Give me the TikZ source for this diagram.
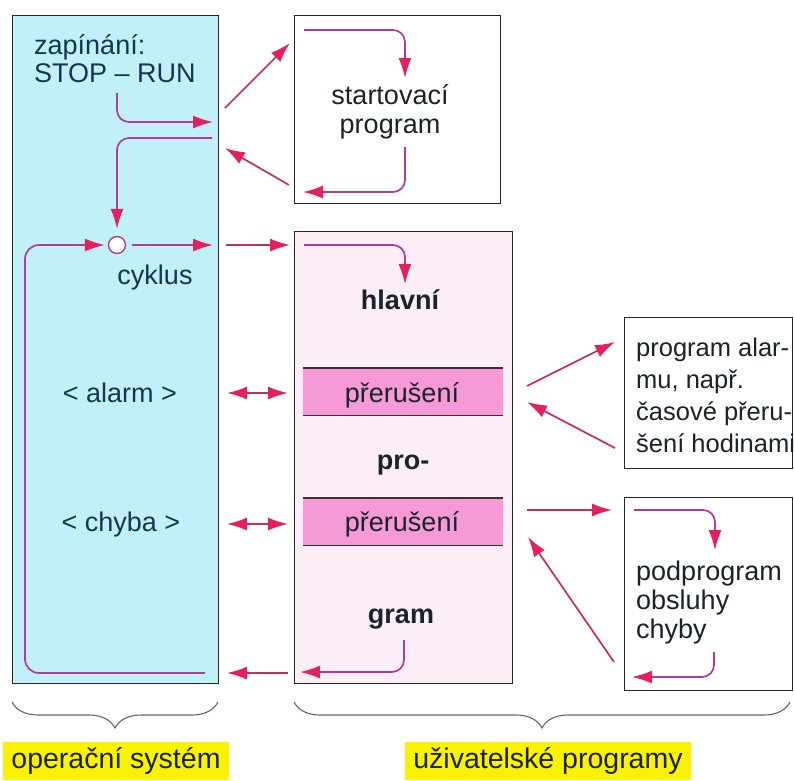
\documentclass[tikz,border=0pt]{standalone}
\usepackage{fontspec}
\setmainfont{Liberation Sans}
\usetikzlibrary{arrows.meta,decorations.pathreplacing}

\definecolor{oscyan}{HTML}{C2F0F9}
\definecolor{userpink}{HTML}{FCEEF6}
\definecolor{bandpink}{HTML}{F59AD6}
\definecolor{linkred}{HTML}{CC2A60}
\definecolor{flowline}{HTML}{B23A9C}
\definecolor{tipred}{HTML}{E4205F}
\definecolor{osblue}{HTML}{163650}
\definecolor{txtdark}{HTML}{1A232B}
\definecolor{hiyellow}{HTML}{FAF200}

\tikzset{
  tipshape/.style={-{Latex[length=20pt,width=13pt,color=tipred]}},
  panel/.style={draw=black!85, line width=1.2pt, anchor=north west, inner sep=0pt},
  link/.style={draw=linkred, line width=1.7pt, tipshape},
  duallink/.style={draw=linkred, line width=1.7pt,
    {Latex[length=20pt,width=13pt,color=tipred]}-{Latex[length=20pt,width=13pt,color=tipred]}},
  flow/.style={draw=flowline, line width=1.7pt, rounded corners=12pt, tipshape},
  ostext/.style={text=osblue, anchor=base, inner sep=0pt},
  utext/.style={text=txtdark, anchor=base, inner sep=0pt},
  ltext/.style={text=txtdark, anchor=base west, inner sep=0pt},
  band/.style={fill=bandpink, anchor=north west, inner sep=0pt,
    minimum width=200pt, minimum height=47pt},
  bandedge/.style={draw=black!80, line width=1.1pt},
  bracket/.style={draw=black!60, line width=1.1pt,
    decorate, decoration={brace, amplitude=26pt}},
  tag/.style={fill=hiyellow, text=txtdark, inner xsep=8pt, minimum height=38pt,
    font=\fontsize{28.5}{32}\selectfont}
}

\begin{document}
\begin{tikzpicture}[x=1pt, y=-1pt, font=\fontsize{27}{31}\selectfont]
\useasboundingbox (0,0) rectangle (794,780);

% ---- boxes ----
\node[panel, fill=oscyan, minimum width=206pt, minimum height=668pt] (os) at (12,15) {};
\node[panel, fill=white, minimum width=206pt, minimum height=188pt] (start) at (294,15) {};
\node[panel, fill=userpink, minimum width=218pt, minimum height=452pt] (main) at (294,231) {};
\node[panel, fill=white, minimum width=168pt, minimum height=151pt] (alarm) at (624,317) {};
\node[panel, fill=white, minimum width=168pt, minimum height=193pt] (err) at (624,497) {};

% interrupt bands in the main program
\node[band] (band1) at (303,368) {};
\node[band] (band2) at (303,498) {};
\draw[bandedge] (band1.north west) -- (band1.north east);
\draw[bandedge] (band1.south west) -- (band1.south east);
\draw[bandedge] (band2.north west) -- (band2.north east);
\draw[bandedge] (band2.south west) -- (band2.south east);

% ---- texts ----
\node[ostext, anchor=base west] (zap) at (34,54) {zapínání:};
\node[ostext, anchor=base west] (stoprun) at (34,82) {STOP – RUN};
\node[ostext] (cyktext) at (155,284) {cyklus};
\node[ostext] (alarmtext) at (120,402) {< alarm >};
\node[ostext] (chybatext) at (121,531) {< chyba >};

\node[utext] (st1) at (390,104) {startovací};
\node[utext] (st2) at (390,133) {program};

\node[utext, font=\fontsize{27}{31}\selectfont\bfseries] (hl) at (400,309) {hlavní};
\node[utext] (pr1) at (402,402) {přerušení};
\node[utext, font=\fontsize{27}{31}\selectfont\bfseries] (pro) at (403,469) {pro-};
\node[utext] (pr2) at (402,531) {přerušení};
\node[utext, font=\fontsize{27}{31}\selectfont\bfseries] (gram) at (401,623) {gram};

\begin{scope}[font=\fontsize{25.5}{30}\selectfont]
\node[ltext] (a1) at (636,356) {program alar-};
\node[ltext] (a2) at (636,388) {mu, např.};
\node[ltext] (a3) at (636,420) {časové přeru-};
\node[ltext] (a4) at (636,452) {šení hodinami};
\end{scope}
\node[ltext] (e1) at (636,580) {podprogram};
\node[ltext] (e2) at (636,609) {obsluhy};
\node[ltext] (e3) at (636,638) {chyby};

% ---- flow inside the operating system ----
\node[circle, draw=flowline, fill=white, line width=1.4pt, minimum size=17pt, inner sep=0pt] (cyc) at (117,245) {};
\coordinate (runA) at (117,93);
\coordinate (runB) at (213,122);
\coordinate (retA) at (212,138);
\coordinate (cycout) at (213,245);
\coordinate (loopS) at (205,673);
\coordinate (loopC) at (25,245);
\draw[flow] (runA) |- (runB);
\draw[flow, shorten >=7pt] (retA) -| (cyc.north);
\draw[flow] ([xshift=6pt]cyc.east) -- (cycout);
\draw[flow, arrows=-, rounded corners=14pt] (loopS) -| (loopC) -- (40,245);
\draw[flow, shorten >=3pt] (40,245) -- (cyc.west);

% ---- flow inside the user programs ----
\coordinate (s1) at (304,30);
\coordinate (s1t) at (405,78);
\draw[flow] (s1) -| (s1t);
\coordinate (s2) at (405,147);
\coordinate (s2t) at (303,192);
\draw[flow] (s2) |- (s2t);

\coordinate (m1) at (304,245);
\coordinate (m1t) at (405,284);
\draw[flow] (m1) -| (m1t);
\coordinate (m2) at (404,640);
\coordinate (m2t) at (300,672);
\draw[flow] (m2) |- (m2t);

\coordinate (e1s) at (634,510);
\coordinate (e1t) at (715,550);
\draw[flow] (e1s) -| (e1t);
\coordinate (e2s) at (714,652);
\coordinate (e2t) at (632,677);
\draw[flow] (e2s) |- (e2t);

% ---- links between the programs ----
\coordinate (lkA) at (225,108);  \coordinate (lkB) at (290,43);
\coordinate (lkC) at (289,185);  \coordinate (lkD) at (225,148);
\coordinate (lkE) at (226,245);  \coordinate (lkF) at (290,245);
\coordinate (lkG) at (227,393);  \coordinate (lkH) at (288,393);
\coordinate (lkI) at (227,524);  \coordinate (lkJ) at (288,524);
\coordinate (lkK) at (288,673);  \coordinate (lkL) at (227,673);
\draw[link] (lkA) -- (lkB);
\draw[link] (lkC) -- (lkD);
\draw[link] (lkE) -- (lkF);
\draw[duallink] (lkG) -- (lkH);
\draw[duallink] (lkI) -- (lkJ);
\draw[link] (lkK) -- (lkL);

\coordinate (alA) at (527,386);  \coordinate (alB) at (615,342);
\coordinate (alC) at (615,448);  \coordinate (alD) at (527,402);
\coordinate (erA) at (527,510);  \coordinate (erB) at (612,510);
\coordinate (erC) at (614,662);  \coordinate (erD) at (528,537);
\draw[link] (alA) -- (alB);
\draw[link] (alC) -- (alD);
\draw[link] (erA) -- (erB);
\draw[link] (erC) -- (erD);

% ---- braces and captions ----
\coordinate (brL1) at (12,702);  \coordinate (brL2) at (218,702);
\coordinate (brR1) at (294,702); \coordinate (brR2) at (790,702);
\draw[bracket] (brL2) -- (brL1);
\draw[bracket] (brR2) -- (brR1);
\node[tag] (oslabel) at (116,761) {operační systém};
\node[tag] (uslabel) at (548,761) {uživatelské programy};
\end{tikzpicture}
\end{document}
